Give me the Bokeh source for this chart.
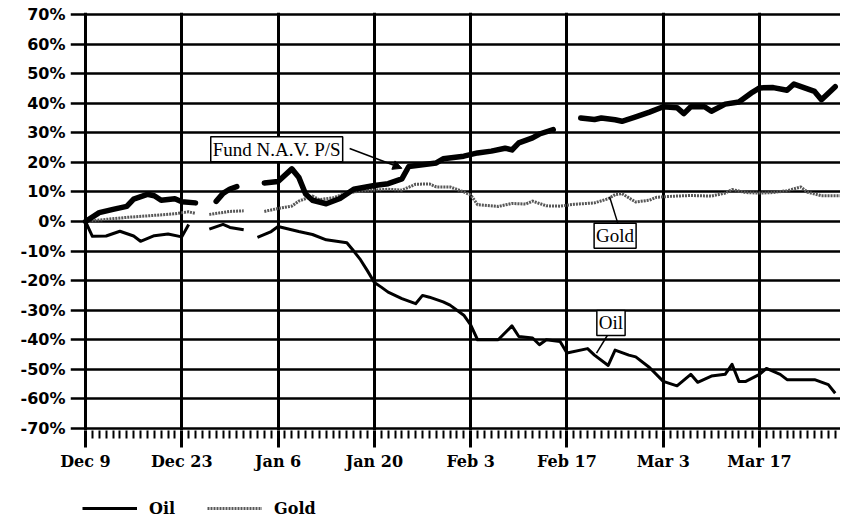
import pandas as pd
from bokeh.plotting import figure
from bokeh.layouts import column
from bokeh.models import (Range1d, FixedTicker, Legend, LegendItem, Label, Arrow,
                          NormalHead)
from bokeh.embed import file_html
from bokeh.resources import INLINE

NAN = float("nan")

# ---------------- data ----------------
tick_dates = ["1990-12-09", "1990-12-23", "1991-01-06", "1991-01-20",
              "1991-02-03", "1991-02-17", "1991-03-03", "1991-03-17"]
tick_labels = ["Dec 9", "Dec 23", "Jan 6", "Jan 20", "Feb 3", "Feb 17", "Mar 3", "Mar 17"]
y_ticks = [70, 60, 50, 40, 30, 20, 10, 0, -10, -20, -30, -40, -50, -60, -70]
y_tick_labels = ["70%", "60%", "50%", "40%", "30%", "20%", "10%", "0%", "-10%",
                 "-20%", "-30%", "-40%", "-50%", "-60%", "-70%"]

fund_dates = ["1990-12-09", "1990-12-11", "1990-12-13", "1990-12-15", "1990-12-16", "1990-12-18",
              "1990-12-19", "1990-12-20", "1990-12-22", "1990-12-23", "1990-12-25", "1990-12-26",
              "1990-12-28", "1990-12-29", "1990-12-30", "1990-12-31", "1991-01-02",
              "1991-01-04", "1991-01-06", "1991-01-08", "1991-01-09", "1991-01-10", "1991-01-11",
              "1991-01-13", "1991-01-15", "1991-01-17", "1991-01-20", "1991-01-22", "1991-01-24",
              "1991-01-25", "1991-01-27", "1991-01-29", "1991-01-30", "1991-02-02", "1991-02-04",
              "1991-02-06", "1991-02-08", "1991-02-09", "1991-02-10", "1991-02-12", "1991-02-13",
              "1991-02-15", "1991-02-17",
              "1991-02-19", "1991-02-21", "1991-02-22", "1991-02-24", "1991-02-25", "1991-02-27",
              "1991-03-01", "1991-03-03", "1991-03-05", "1991-03-06", "1991-03-07", "1991-03-09",
              "1991-03-10", "1991-03-12", "1991-03-14", "1991-03-16", "1991-03-17", "1991-03-19",
              "1991-03-21", "1991-03-22", "1991-03-25", "1991-03-26", "1991-03-28"]
fund_values = [0.0, 3.0, 4.1, 5.1, 7.6, 9.2,
               8.7, 7.2, 7.7, 6.7, 6.3, NAN,
               6.8, 9.5, 11.0, 11.8, NAN,
               13.0, 13.5, 17.8, 15.0, 9.3, 7.2,
               6.0, 7.8, 10.9, 12.2, 12.8, 14.4,
               18.6, 19.2, 19.8, 21.2, 22.1, 23.2,
               23.8, 24.8, 24.2, 26.6, 28.3, 29.6,
               31.1, NAN,
               35.0, 34.5, 35.0, 34.4, 33.9, 35.4,
               37.0, 38.8, 38.5, 36.5, 38.8, 38.8,
               37.3, 39.7, 40.4, 43.8, 45.2, 45.3,
               44.4, 46.5, 44.0, 41.2, 45.6]

gold_dates = ["1990-12-09", "1990-12-11", "1990-12-15", "1990-12-18", "1990-12-22", "1990-12-24",
              "1990-12-25", "1990-12-26", "1990-12-27", "1990-12-30", "1991-01-01", "1991-01-02",
              "1991-01-04", "1991-01-06", "1991-01-08", "1991-01-09", "1991-01-11", "1991-01-12",
              "1991-01-14", "1991-01-16", "1991-01-19", "1991-01-22", "1991-01-24", "1991-01-26",
              "1991-01-28", "1991-01-29", "1991-01-31", "1991-02-02", "1991-02-03", "1991-02-04",
              "1991-02-07", "1991-02-09", "1991-02-11", "1991-02-12", "1991-02-14", "1991-02-16",
              "1991-02-18", "1991-02-21", "1991-02-23", "1991-02-24", "1991-02-25", "1991-02-27",
              "1991-03-01", "1991-03-02", "1991-03-04", "1991-03-07", "1991-03-10", "1991-03-12",
              "1991-03-13", "1991-03-15", "1991-03-17", "1991-03-19", "1991-03-21", "1991-03-23",
              "1991-03-24", "1991-03-26", "1991-03-29"]
gold_values = [0.0, 0.5, 1.4, 1.9, 2.6, 3.3,
               2.7, NAN, 2.4, 3.4, 3.6, NAN,
               3.4, 4.4, 5.2, 6.9, 8.6, 7.4,
               8.0, 9.7, 10.5, 10.9, 10.6, 12.6,
               12.7, 11.7, 11.7, 10.0, 9.0, 5.7,
               5.1, 6.1, 5.9, 6.9, 5.3, 5.2,
               5.8, 6.3, 7.7, 9.1, 9.4, 6.6,
               7.2, 8.2, 8.5, 8.8, 8.6, 9.6,
               10.8, 9.8, 9.6, 9.8, 10.4, 11.7,
               9.9, 8.7, 8.7]

oil_dates = ["1990-12-09", "1990-12-10", "1990-12-12", "1990-12-14", "1990-12-16", "1990-12-17",
             "1990-12-19", "1990-12-21", "1990-12-23", "1990-12-24", "1990-12-25",
             "1990-12-27", "1990-12-29", "1990-12-30", "1991-01-01", "1991-01-02",
             "1991-01-03", "1991-01-05", "1991-01-06", "1991-01-09", "1991-01-11", "1991-01-13",
             "1991-01-16", "1991-01-17", "1991-01-18", "1991-01-19", "1991-01-20", "1991-01-21",
             "1991-01-22", "1991-01-24", "1991-01-26", "1991-01-27", "1991-01-28", "1991-01-30",
             "1991-01-31", "1991-02-02", "1991-02-03", "1991-02-04", "1991-02-07", "1991-02-09",
             "1991-02-10", "1991-02-12", "1991-02-13", "1991-02-14", "1991-02-16", "1991-02-17",
             "1991-02-20", "1991-02-21", "1991-02-23", "1991-02-24", "1991-02-26", "1991-02-27",
             "1991-03-01", "1991-03-03", "1991-03-05", "1991-03-07", "1991-03-08", "1991-03-10",
             "1991-03-12", "1991-03-13", "1991-03-14", "1991-03-15", "1991-03-17", "1991-03-18",
             "1991-03-20", "1991-03-21", "1991-03-25", "1991-03-27", "1991-03-28"]
oil_values = [0.0, -5.0, -4.9, -3.3, -4.9, -6.7,
              -4.8, -4.2, -5.2, -1.0, NAN,
              -2.6, -1.0, -2.0, -2.8, NAN,
              -5.4, -3.4, -1.7, -3.4, -4.4, -6.2,
              -7.2, -10.0, -13.0, -16.7, -20.6, -22.2,
              -23.9, -26.1, -27.8, -25.0, -25.6, -27.2,
              -28.3, -31.7, -35.0, -40.0, -40.0, -35.3,
              -38.9, -39.4, -41.7, -40.0, -40.6, -44.5,
              -43.0, -45.2, -48.7, -43.5, -45.2, -45.8,
              -49.4, -54.1, -55.6, -51.7, -54.4, -52.3,
              -51.7, -48.3, -54.1, -54.1, -51.7, -49.7,
              -51.7, -53.5, -53.5, -55.2, -58.1]


def ms(s):
    return int(pd.Timestamp(s).value // 10**6)


DAY = 86400000
base = ms(tick_dates[0])

fund_x = [ms(d) for d in fund_dates]
gold_x = [ms(d) for d in gold_dates]
oil_x = [ms(d) for d in oil_dates]
major = [ms(d) for d in tick_dates]
minor = [ms(d) for d in pd.date_range("1990-12-10", "1991-03-29").strftime("%Y-%m-%d")
         if ms(d) not in major]

OIL_STYLE = dict(line_color="black", line_width=3, line_join="round")
GOLD_STYLE = dict(line_color="#585858", line_width=3, line_dash="2 1", line_join="round")

# ---------------- main figure ----------------
p = figure(width=840, height=474, x_axis_type="datetime",
           output_backend="svg", toolbar_location=None,
           x_range=Range1d(base - 2.18 * DAY, base + 109.77 * DAY),
           y_range=Range1d(-70.7, 70.7),
           min_border_left=70, min_border_right=0, min_border_top=12, min_border_bottom=44)
p.outline_line_color = None
p.background_fill_color = "white"
p.border_fill_color = "white"

p.xaxis.ticker = FixedTicker(ticks=major, minor_ticks=minor)
p.xaxis.major_label_overrides = {t: l for t, l in zip(major, tick_labels)}
p.xaxis.axis_line_color = None
p.xaxis.major_tick_in = 0
p.xaxis.major_tick_out = 17
p.xaxis.major_tick_line_width = 3
p.xaxis.major_tick_line_color = "black"
p.xaxis.minor_tick_in = 0
p.xaxis.minor_tick_out = 8
p.xaxis.minor_tick_line_width = 2
p.xaxis.minor_tick_line_color = "black"
p.xaxis.major_label_text_font = "DejaVu Serif"
p.xaxis.major_label_text_font_style = "bold"
p.xaxis.major_label_text_font_size = "16px"
p.xaxis.major_label_text_color = "black"
p.xaxis.major_label_standoff = 4

p.yaxis.ticker = FixedTicker(ticks=y_ticks, minor_ticks=[])
p.yaxis.major_label_overrides = {t: l for t, l in zip(y_ticks, y_tick_labels)}
p.yaxis.axis_line_color = None
p.yaxis.major_tick_in = 0
p.yaxis.major_tick_out = 0
p.yaxis.minor_tick_in = 0
p.yaxis.minor_tick_out = 0
p.yaxis.major_label_text_font = "DejaVu Sans"
p.yaxis.major_label_text_font_style = "bold"
p.yaxis.major_label_text_font_size = "16px"
p.yaxis.major_label_text_color = "black"
p.yaxis.major_label_standoff = 5

p.xgrid.grid_line_color = "black"
p.xgrid.grid_line_width = 3
p.ygrid.grid_line_color = "black"
p.ygrid.grid_line_width = 2.7

p.line(gold_x, gold_values, **GOLD_STYLE)
p.line(oil_x, oil_values, **OIL_STYLE)
p.line(fund_x, fund_values, line_color="black", line_width=5.5,
       line_join="round", line_cap="round")


def lab(text, day, yv):
    return Label(x=base + day * DAY, y=yv, text=text, text_align="center",
                 text_baseline="middle", text_font="Liberation Serif",
                 text_font_size="19px", text_color="black",
                 background_fill_color="white", border_line_color="black",
                 border_line_width=1.5, padding=2)


p.add_layout(Arrow(end=NormalHead(size=9, fill_color="black", line_color="black"),
                   x_start=base + 38.4 * DAY, y_start=24.7,
                   x_end=base + 46.0 * DAY, y_end=18.0,
                   line_color="black", line_width=1.5))
p.add_layout(Arrow(end=None, x_start=base + 77.5 * DAY, y_start=-1.4,
                   x_end=base + 76.2 * DAY, y_end=8.4, line_color="black", line_width=1.5))
p.add_layout(Arrow(end=None, x_start=base + 76.2 * DAY, y_start=-37.3,
                   x_end=base + 74.3 * DAY, y_end=-44.5, line_color="black", line_width=1.5))
p.add_layout(lab("Fund N.A.V. P/S", 27.8, 24.4))
p.add_layout(lab("Gold", 77.0, -4.8))
p.add_layout(lab("Oil", 76.4, -34.3))

# ---------------- legend strip (frame aligned with the chart's frame) ----------------
q = figure(width=840, height=50, output_backend="svg", toolbar_location=None,
           x_range=Range1d(0, 1), y_range=Range1d(0, 1),
           x_axis_location=None, y_axis_location=None,
           min_border_left=70, min_border_right=0, min_border_top=0, min_border_bottom=0)
q.outline_line_color = None
q.grid.visible = False
# legend keys only: a single missing point, so nothing is drawn in the strip itself
oil_key = q.line(x=[NAN], y=[NAN], **OIL_STYLE)
gold_key = q.line(x=[NAN], y=[NAN], **GOLD_STYLE)
legend = Legend(items=[LegendItem(label="Oil", renderers=[oil_key]),
                       LegendItem(label="Gold", renderers=[gold_key])],
                orientation="horizontal", location=(12, 6),
                glyph_width=55, glyph_height=20, label_standoff=12, spacing=32,
                padding=0, margin=0, border_line_color=None, background_fill_alpha=0,
                label_text_font="DejaVu Serif", label_text_font_style="bold",
                label_text_font_size="16px", label_text_color="black")
q.add_layout(legend, "center")

open("out.html", "w").write(file_html(column(p, q, spacing=0), INLINE))
